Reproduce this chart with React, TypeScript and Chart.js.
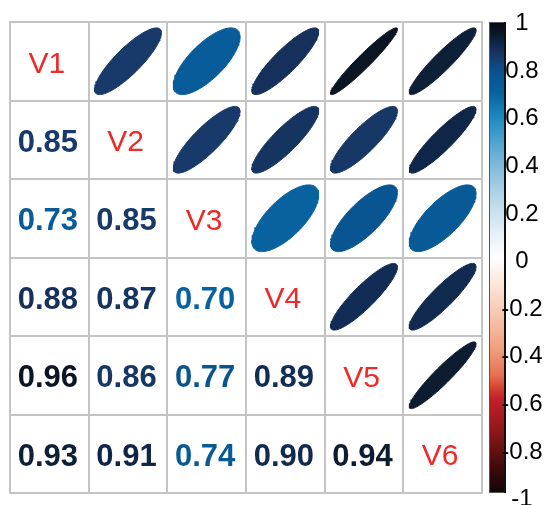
import React, { useEffect, useRef } from 'react';
import { Chart, registerables } from 'chart.js';

Chart.register(...registerables);

// Variable names (matrix order)
const variables = ['V1', 'V2', 'V3', 'V4', 'V5', 'V6'];

// Lower-triangle correlations, one row per variable (columns V1..)
const corrV2 = [0.85];
const corrV3 = [0.73, 0.85];
const corrV4 = [0.88, 0.87, 0.7];
const corrV5 = [0.96, 0.86, 0.77, 0.89];
const corrV6 = [0.93, 0.91, 0.74, 0.9, 0.94];

// Colour legend tick values
const legendTicks = [1, 0.8, 0.6, 0.4, 0.2, 0, -0.2, -0.4, -0.6, -0.8, -1];

// Diverging palette: value -> colour
const paletteStops: [number, string][] = [
  [-1, '#120505'],
  [-0.9, '#3a0a0a'],
  [-0.8, '#6e1212'],
  [-0.7, '#9e1a20'],
  [-0.6, '#c21f2a'],
  [-0.55, '#d64530'],
  [-0.5, '#e57050'],
  [-0.4, '#f09a7a'],
  [-0.3, '#f6b79c'],
  [-0.2, '#fad0bd'],
  [-0.1, '#fde8dd'],
  [0, '#ffffff'],
  [0.1, '#e6f0f7'],
  [0.2, '#c8e0ee'],
  [0.3, '#a5cde5'],
  [0.4, '#7ab8da'],
  [0.5, '#4aa2cf'],
  [0.6, '#1a88c0'],
  [0.7, '#07629f'],
  [0.8, '#0a4f8c'],
  [0.85, '#183a6b'],
  [0.9, '#112a50'],
  [0.95, '#0c1828'],
  [1, '#050810'],
];

const lowerRows: number[][] = [[], corrV2, corrV3, corrV4, corrV5, corrV6];

function corr(i: number, j: number): number {
  if (i === j) return 1;
  return i > j ? lowerRows[i][j] : lowerRows[j][i];
}

function hexToRgb(h: string): number[] {
  const n = parseInt(h.slice(1), 16);
  return [(n >> 16) & 255, (n >> 8) & 255, n & 255];
}

function paletteColor(v: number): string {
  for (let s = 0; s < paletteStops.length - 1; s++) {
    const [v0, c0] = paletteStops[s];
    const [v1, c1] = paletteStops[s + 1];
    if (v >= v0 && v <= v1) {
      const t = (v - v0) / (v1 - v0);
      const a = hexToRgb(c0);
      const b = hexToRgb(c1);
      const m = a.map((x, k) => Math.round(x + (b[k] - x) * t));
      return `rgb(${m[0]},${m[1]},${m[2]})`;
    }
  }
  return paletteStops[paletteStops.length - 1][1];
}

// Ellipse outline for a correlation, centred in cell (row, col)
function ellipsePoints(r: number, row: number, col: number) {
  const d = Math.acos(r);
  const n = 99;
  const pts: { x: number; y: number }[] = [];
  for (let s = 0; s < n; s++) {
    const k = (2 * Math.PI * s) / (n - 1);
    pts.push({
      x: col + (0.85 * Math.cos(k + d / 2)) / 2,
      y: row - (0.85 * Math.cos(k - d / 2)) / 2,
    });
  }
  return pts;
}

const FONT = '"Liberation Sans", Arial, sans-serif';

const corrLayers = {
  id: 'corrLayers',
  beforeDatasetsDraw(chart: any) {
    const { ctx, scales } = chart;
    const xs = scales.x;
    const ys = scales.y;
    ctx.save();
    ctx.strokeStyle = '#c4c4c4';
    ctx.lineWidth = 2;
    for (let g = 0; g <= variables.length; g++) {
      const px = Math.round(xs.getPixelForValue(g + 0.5));
      const py = Math.round(ys.getPixelForValue(g + 0.5));
      ctx.beginPath();
      ctx.moveTo(px, ys.getPixelForValue(0.5) - 1);
      ctx.lineTo(px, ys.getPixelForValue(variables.length + 0.5) + 1);
      ctx.stroke();
      ctx.beginPath();
      ctx.moveTo(xs.getPixelForValue(0.5) - 1, py);
      ctx.lineTo(xs.getPixelForValue(variables.length + 0.5) + 1, py);
      ctx.stroke();
    }
    ctx.restore();
  },
  afterDatasetsDraw(chart: any) {
    const { ctx, scales } = chart;
    const xs = scales.x;
    const ys = scales.y;
    const nv = variables.length;
    ctx.save();
    ctx.textAlign = 'center';
    ctx.textBaseline = 'alphabetic';
    for (let i = 0; i < nv; i++) {
      for (let j = 0; j <= i; j++) {
        const cx = xs.getPixelForValue(j + 1) - 1.5;
        const cy = ys.getPixelForValue(i + 1);
        if (i === j) {
          ctx.font = `30px ${FONT}`;
          ctx.fillStyle = '#f02828';
          ctx.fillText(variables[i], cx - 1, cy + 11.5);
        } else {
          const r = corr(i, j);
          ctx.font = `bold 31px ${FONT}`;
          ctx.fillStyle = paletteColor(r);
          ctx.fillText(r.toFixed(2), cx, cy + 12);
        }
      }
    }

    // Colour legend bar
    const top = ys.getPixelForValue(0.5);
    const bottom = ys.getPixelForValue(nv + 0.5);
    const right = xs.getPixelForValue(nv + 0.5);
    const bx0 = right + 7;
    const bx1 = right + 24;
    const grad = ctx.createLinearGradient(0, top, 0, bottom);
    paletteStops.forEach(([v, c]) => grad.addColorStop((1 - v) / 2, c));
    ctx.fillStyle = grad;
    ctx.fillRect(bx0, top, bx1 - bx0, bottom - top);
    ctx.strokeStyle = '#555';
    ctx.lineWidth = 1;
    ctx.strokeRect(bx0 + 0.5, top + 0.5, bx1 - bx0 - 1, bottom - top - 1);
    ctx.strokeStyle = '#111';
    ctx.lineWidth = 2;
    ctx.beginPath();
    ctx.moveTo(bx1 - 1, top);
    ctx.lineTo(bx1 - 1, bottom);
    ctx.stroke();

    ctx.fillStyle = '#000';
    ctx.font = `24px ${FONT}`;
    ctx.textAlign = 'center';
    ctx.textBaseline = 'middle';
    const span = bottom - top + 5;
    legendTicks.forEach((v) => {
      const ly = top + 0.5 + ((1 - v) / 2) * span;
      const label = v === 0 ? '0' : String(v);
      ctx.fillText(label, right + 40, ly + 1);
    });
    ctx.restore();
  },
};

export default function App() {
  const canvasRef = useRef<HTMLCanvasElement | null>(null);

  useEffect(() => {
    const canvas = canvasRef.current;
    if (!canvas) return;
    const nv = variables.length;
    const datasets: any[] = [];
    for (let i = 0; i < nv; i++) {
      for (let j = i + 1; j < nv; j++) {
        const r = corr(i, j);
        const col = paletteColor(r);
        datasets.push({
          type: 'line',
          label: `${variables[i]}-${variables[j]}`,
          data: ellipsePoints(r, i + 1, j + 1),
          borderColor: col,
          backgroundColor: col,
          borderWidth: 1,
          pointRadius: 0,
          tension: 0,
          fill: 'shape',
        });
      }
    }
    const chart = new Chart(canvas, {
      type: 'line',
      data: { datasets },
      options: {
        responsive: false,
        animation: false,
        layout: { padding: { left: 10, right: 66, top: 22, bottom: 12 } },
        scales: {
          x: { type: 'linear', min: 0.5, max: nv + 0.5, display: false },
          y: { type: 'linear', min: 0.5, max: nv + 0.5, reverse: true, display: false },
        },
        plugins: {
          legend: { display: false },
          tooltip: { enabled: false },
        },
      },
      plugins: [corrLayers],
    });
    return () => chart.destroy();
  }, []);

  return (
    <div style={{ position: 'absolute', left: 0, top: 0, width: 548, height: 505, background: '#fff' }}>
      <canvas ref={canvasRef} width={548} height={505} />
    </div>
  );
}
